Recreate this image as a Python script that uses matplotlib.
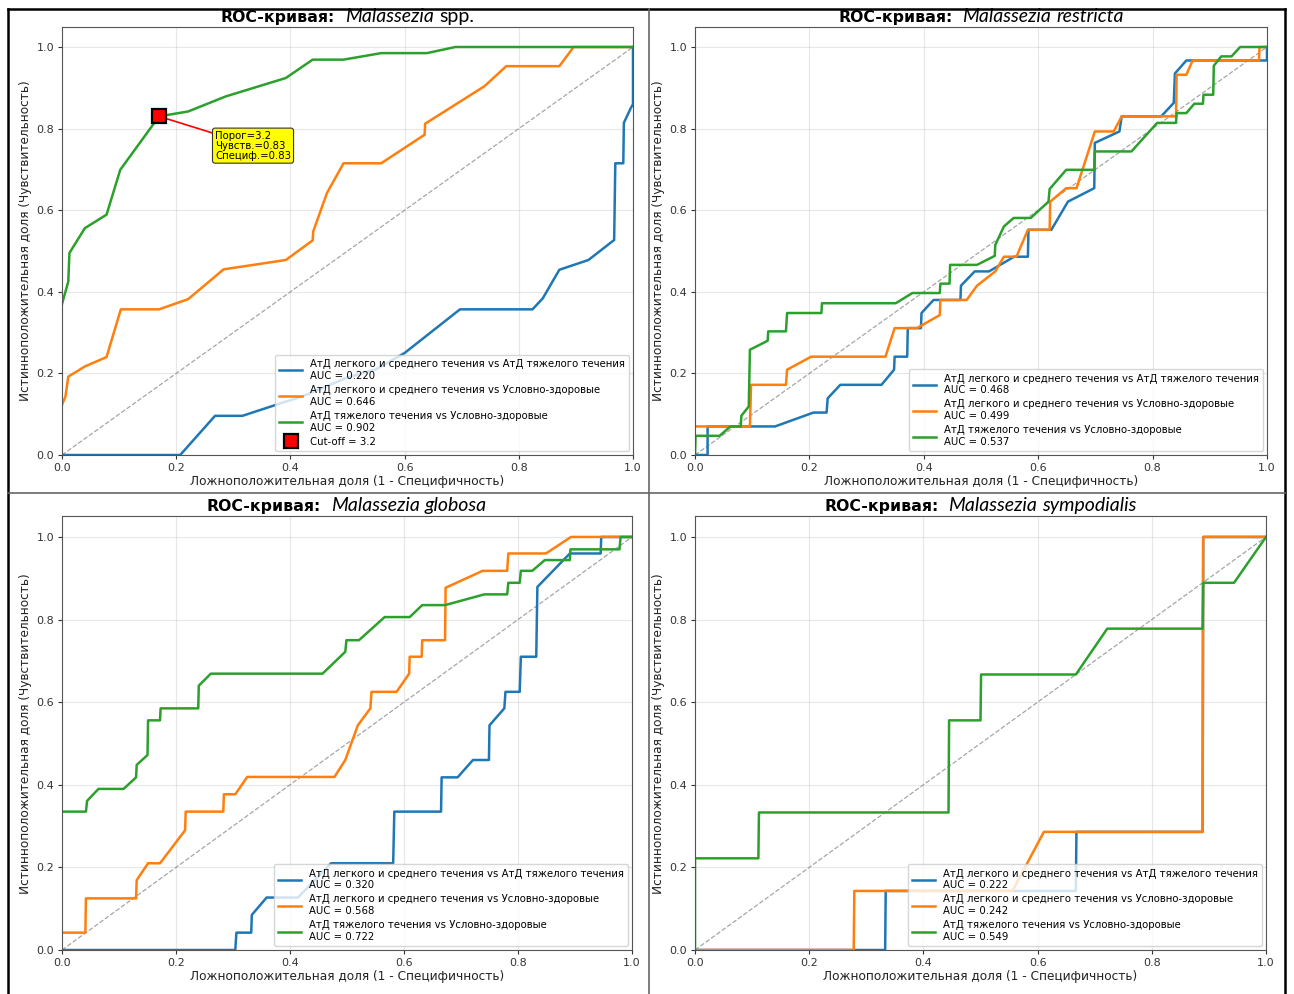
import matplotlib
matplotlib.use("Agg")
import matplotlib.pyplot as plt
from matplotlib.lines import Line2D
from matplotlib.transforms import IdentityTransform

# ---------------------------------------------------------------- data
COMPARISONS = [
    "АтД легкого и среднего течения vs АтД тяжелого течения",
    "АтД легкого и среднего течения vs Условно-здоровые",
    "АтД тяжелого течения vs Условно-здоровые",
]
SPECIES = ["spp.", "restricta", "globosa", "sympodialis"]
SPECIES_ITALIC = [False, True, True, True]   # "spp." is set upright

AUC_SPP = [0.220, 0.646, 0.902]
AUC_RESTRICTA = [0.468, 0.499, 0.537]
AUC_GLOBOSA = [0.320, 0.568, 0.722]
AUC_SYMPODIALIS = [0.222, 0.242, 0.549]

# Malassezia spp.
SPP_FPR_1 = [0, 0.207, 0.268, 0.316, 0.39, 0.42, 0.5, 0.55, 0.6, 0.697, 0.824, 0.842, 0.871,
             0.922, 0.967, 0.969, 0.983, 0.984, 0.996, 1.0, 1.0]
SPP_TPR_1 = [0, 0, 0.096, 0.096, 0.13, 0.143, 0.19, 0.21, 0.25, 0.357, 0.357, 0.384, 0.454,
             0.478, 0.527, 0.715, 0.715, 0.814, 0.85, 0.86, 1.0]
SPP_FPR_2 = [0, 0.006, 0.011, 0.04, 0.078, 0.103, 0.17, 0.221, 0.283, 0.392, 0.439, 0.44,
             0.464, 0.493, 0.559, 0.635, 0.636, 0.74, 0.778, 0.871, 0.896, 1.0]
SPP_TPR_2 = [0.123, 0.143, 0.192, 0.217, 0.24, 0.357, 0.357, 0.382, 0.455, 0.478, 0.526, 0.548,
             0.642, 0.715, 0.715, 0.785, 0.812, 0.904, 0.953, 0.953, 1.0, 1.0]
SPP_FPR_3 = [0, 0.006, 0.011, 0.013, 0.04, 0.078, 0.102, 0.17, 0.221, 0.287, 0.392, 0.439,
             0.493, 0.559, 0.639, 0.689, 1.0]
SPP_TPR_3 = [0.37, 0.4, 0.425, 0.495, 0.556, 0.589, 0.699, 0.83, 0.842, 0.879, 0.924, 0.969,
             0.969, 0.985, 0.985, 1.0, 1.0]

CUTOFF_THRESHOLD = 3.2
CUTOFF_SENS = 0.83
CUTOFF_SPEC = 0.83

# Malassezia restricta
RES_FPR_1 = [0, 0.022, 0.022, 0.14, 0.207, 0.23, 0.232, 0.254, 0.326, 0.348, 0.349, 0.371,
             0.372, 0.395, 0.396, 0.417, 0.464, 0.465, 0.489, 0.514, 0.558, 0.582, 0.583,
             0.623, 0.652, 0.698, 0.699, 0.742, 0.746, 0.815, 0.837, 0.839, 0.859, 1.0, 1.0]
RES_TPR_1 = [0, 0, 0.07, 0.07, 0.104, 0.104, 0.139, 0.172, 0.172, 0.209, 0.241, 0.241,
             0.311, 0.311, 0.348, 0.38, 0.38, 0.415, 0.45, 0.45, 0.486, 0.486, 0.552,
             0.552, 0.621, 0.654, 0.765, 0.793, 0.83, 0.83, 0.863, 0.935, 0.967, 0.967, 1.0]
RES_FPR_2 = [0, 0.096, 0.098, 0.159, 0.161, 0.203, 0.333, 0.349, 0.388, 0.428, 0.429, 0.475,
             0.493, 0.525, 0.54, 0.562, 0.582, 0.62, 0.621, 0.649, 0.667, 0.699, 0.732,
             0.746, 0.841, 0.842, 0.859, 0.87, 0.986, 0.987, 1.0]
RES_TPR_2 = [0.07, 0.07, 0.172, 0.172, 0.209, 0.241, 0.241, 0.311, 0.311, 0.343, 0.38, 0.38,
             0.415, 0.45, 0.486, 0.486, 0.552, 0.552, 0.621, 0.654, 0.654, 0.793, 0.793,
             0.83, 0.83, 0.932, 0.932, 0.967, 0.967, 1.0, 1.0]
RES_FPR_3 = [0, 0.001, 0.043, 0.062, 0.08, 0.081, 0.094, 0.096, 0.127, 0.128, 0.159, 0.161,
             0.221, 0.222, 0.351, 0.38, 0.428, 0.429, 0.445, 0.446, 0.493, 0.524, 0.525,
             0.54, 0.557, 0.587, 0.618, 0.62, 0.649, 0.698, 0.699, 0.763, 0.808, 0.841,
             0.842, 0.859, 0.873, 0.888, 0.889, 0.906, 0.907, 0.92, 0.938, 0.953, 1.0]
RES_TPR_3 = [0, 0.047, 0.047, 0.07, 0.07, 0.096, 0.119, 0.258, 0.28, 0.303, 0.303, 0.348,
             0.348, 0.372, 0.372, 0.397, 0.397, 0.42, 0.42, 0.466, 0.466, 0.488, 0.515,
             0.56, 0.581, 0.581, 0.621, 0.652, 0.699, 0.699, 0.744, 0.744, 0.814, 0.814,
             0.838, 0.838, 0.861, 0.861, 0.883, 0.883, 0.954, 0.977, 0.977, 1.0, 1.0]

# Malassezia globosa
GLO_FPR_1 = [0, 0.304, 0.306, 0.332, 0.333, 0.359, 0.414, 0.472, 0.581, 0.583, 0.665, 0.666,
             0.694, 0.721, 0.749, 0.75, 0.776, 0.778, 0.803, 0.805, 0.832, 0.834, 0.891,
             0.945, 0.946, 1.0]
GLO_TPR_1 = [0, 0, 0.042, 0.042, 0.085, 0.127, 0.127, 0.21, 0.21, 0.335, 0.335, 0.418,
             0.418, 0.46, 0.46, 0.544, 0.585, 0.625, 0.625, 0.71, 0.71, 0.879, 0.96,
             0.96, 1.0, 1.0]
GLO_FPR_2 = [0, 0.041, 0.042, 0.13, 0.131, 0.151, 0.172, 0.216, 0.217, 0.283, 0.284, 0.304,
             0.325, 0.478, 0.497, 0.519, 0.541, 0.543, 0.587, 0.609, 0.61, 0.631, 0.632,
             0.672, 0.673, 0.738, 0.781, 0.783, 0.849, 0.893, 1.0]
GLO_TPR_2 = [0.042, 0.042, 0.125, 0.125, 0.169, 0.21, 0.21, 0.29, 0.335, 0.335, 0.377, 0.377,
             0.419, 0.419, 0.46, 0.544, 0.585, 0.625, 0.625, 0.669, 0.71, 0.71, 0.75,
             0.75, 0.877, 0.918, 0.918, 0.96, 0.96, 1.0, 1.0]
GLO_FPR_3 = [0, 0.042, 0.044, 0.064, 0.108, 0.13, 0.131, 0.15, 0.151, 0.172, 0.173, 0.239,
             0.24, 0.261, 0.457, 0.497, 0.499, 0.521, 0.566, 0.61, 0.632, 0.672, 0.741,
             0.781, 0.783, 0.803, 0.805, 0.825, 0.847, 0.891, 0.892, 0.978, 0.98, 1.0]
GLO_TPR_3 = [0.335, 0.335, 0.361, 0.39, 0.39, 0.418, 0.448, 0.472, 0.556, 0.556, 0.585, 0.585,
             0.64, 0.669, 0.669, 0.722, 0.75, 0.75, 0.806, 0.806, 0.835, 0.835, 0.861,
             0.861, 0.889, 0.889, 0.918, 0.918, 0.944, 0.944, 0.97, 0.97, 1.0, 1.0]

# Malassezia sympodialis
SYM_FPR_1 = [0, 0.333, 0.334, 0.667, 0.668, 0.889, 0.89, 1.0]
SYM_TPR_1 = [0, 0, 0.143, 0.143, 0.286, 0.286, 1.0, 1.0]
SYM_FPR_2 = [0, 0.278, 0.279, 0.556, 0.611, 0.889, 0.89, 1.0]
SYM_TPR_2 = [0, 0, 0.143, 0.143, 0.286, 0.286, 1.0, 1.0]
SYM_FPR_3 = [0, 0, 0.111, 0.112, 0.444, 0.445, 0.5, 0.501, 0.667, 0.722, 0.889, 0.89,
             0.944, 1.0]
SYM_TPR_3 = [0, 0.222, 0.222, 0.333, 0.333, 0.556, 0.556, 0.667, 0.667, 0.778, 0.778,
             0.889, 0.889, 1.0]

# ---------------------------------------------------------------- layout
W, H = 1294, 994
COLORS = ["#1f77b4", "#ff7f0e", "#2ca02c"]

fig = plt.figure(figsize=(W / 100, H / 100), dpi=100)
fig.patch.set_facecolor("white")


def px_axes(left, right, top, bottom):
    return fig.add_axes([left / W, 1 - bottom / H, (right - left) / W, (bottom - top) / H])


panels = [
    dict(ax=px_axes(62, 633, 26.6, 455), title_y=16,
         curves=[(SPP_FPR_1, SPP_TPR_1), (SPP_FPR_2, SPP_TPR_2), (SPP_FPR_3, SPP_TPR_3)],
         auc=AUC_SPP, cutoff=True),
    dict(ax=px_axes(695, 1267, 26.6, 455), title_y=16,
         curves=[(RES_FPR_1, RES_TPR_1), (RES_FPR_2, RES_TPR_2), (RES_FPR_3, RES_TPR_3)],
         auc=AUC_RESTRICTA, cutoff=False),
    dict(ax=px_axes(62, 632, 516.3, 950), title_y=505,
         curves=[(GLO_FPR_1, GLO_TPR_1), (GLO_FPR_2, GLO_TPR_2), (GLO_FPR_3, GLO_TPR_3)],
         auc=AUC_GLOBOSA, cutoff=False),
    dict(ax=px_axes(695, 1266, 516.3, 950), title_y=505,
         curves=[(SYM_FPR_1, SYM_TPR_1), (SYM_FPR_2, SYM_TPR_2), (SYM_FPR_3, SYM_TPR_3)],
         auc=AUC_SYMPODIALIS, cutoff=False),
]

for p in panels:
    ax = p["ax"]
    ax.plot([0, 1], [0, 1], linestyle="--", color="gray", lw=0.9, alpha=0.7)
    for (fpr, tpr), name, auc, c in zip(p["curves"], COMPARISONS, p["auc"], COLORS):
        ax.plot(fpr, tpr, color=c, lw=1.8, label=f"{name}\nAUC = {auc:.3f}")
    if p["cutoff"]:
        cx, cy = 1 - CUTOFF_SPEC, CUTOFF_SENS
        ax.plot([cx], [cy], marker="s", markersize=9.5, markerfacecolor="red",
                markeredgecolor="black", markeredgewidth=1.6, linestyle="none",
                label=f"Cut-off = {CUTOFF_THRESHOLD}", zorder=5)
        ax.annotate(f"Порог={CUTOFF_THRESHOLD}\nЧувств.={CUTOFF_SENS:.2f}\nСпециф.={CUTOFF_SPEC:.2f}",
                    xy=(cx, cy), xytext=(0.268, 0.795), fontsize=7.3, ha="left", va="top",
                    linespacing=1.0,
                    bbox=dict(boxstyle="round,pad=0.25", fc="yellow", ec="#333333", lw=0.8),
                    arrowprops=dict(arrowstyle="-", color="red", lw=1.2,
                                    shrinkA=0, shrinkB=0))
    ax.set_xlim(0, 1)
    ax.set_ylim(0, 1.05)
    ax.set_xticks([0, 0.2, 0.4, 0.6, 0.8, 1.0])
    ax.set_yticks([0, 0.2, 0.4, 0.6, 0.8, 1.0])
    ax.grid(True, alpha=0.3)
    ax.tick_params(labelsize=8, length=3, pad=2.5, colors="#333333")
    for s in ax.spines.values():
        s.set_color("#555555")
    ax.set_xlabel("Ложноположительная доля (1 - Специфичность)", fontsize=8.7,
                  labelpad=2, color="#222222")
    ax.set_ylabel("Истинноположительная доля (Чувствительность)", fontsize=8.7,
                  labelpad=3, color="#222222")
    ax.legend(loc="lower right", fontsize=7.3, labelspacing=0.42, handlelength=2.2,
              borderpad=0.45, framealpha=0.8, borderaxespad=0.35)

# ---------------------------------------------------------------- titles
renderer = fig.canvas.get_renderer()
ident = IdentityTransform()
for p, sp, it in zip(panels, SPECIES, SPECIES_ITALIC):
    ax = p["ax"]
    bb = ax.get_window_extent(renderer)
    cx = (bb.x0 + bb.x1) / 2
    y = H - p["title_y"] - 6
    parts = [("ROC-кривая:", dict(fontsize=11.3, fontweight="bold", family="DejaVu Sans"), 10),
             ("Malassezia", dict(fontsize=14, style="italic", family="Lato"), 5),
             (sp, dict(fontsize=14, style="italic" if it else "normal", family="Lato"), 0)]
    texts = []
    for s, kw, gap in parts:
        t = fig.text(0, y, s, transform=ident, va="baseline", ha="left", **kw)
        w = t.get_window_extent(renderer).width
        texts.append((t, w, gap))
    total = sum(w + g for _, w, g in texts)
    x = cx - total / 2
    for t, w, g in texts:
        t.set_x(x)
        x += w + g

# ---------------------------------------------------------------- panel frames
def hline(y, x0, x1, **kw):
    fig.add_artist(Line2D([x0, x1], [H - y, H - y], transform=ident, **kw))


def vline(x, y0, y1, **kw):
    fig.add_artist(Line2D([x, x], [H - y0, H - y1], transform=ident, **kw))


outer = dict(color="black", lw=1.8)
inner = dict(color="#666666", lw=1.2)
hline(8.5, 8, 1285, **outer)
vline(8, 8.5, H + 2, **outer)
vline(1285, 8.5, H + 2, **outer)
hline(493, 8, 1285, **inner)
vline(649, 8.5, H + 2, **inner)

fig.savefig("out.png", dpi=100, facecolor="white")
